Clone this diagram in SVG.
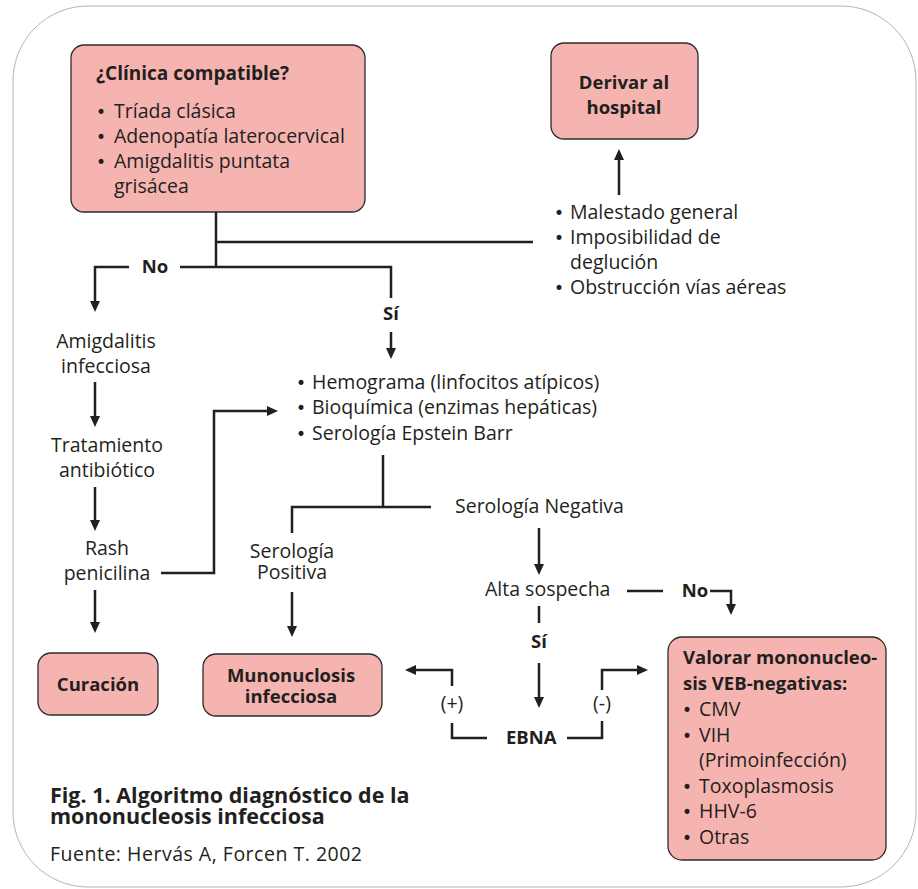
<svg xmlns="http://www.w3.org/2000/svg" width="918" height="889" viewBox="0 0 918 889">
<style>
text{font-family:"Open Sans","DejaVu Sans",sans-serif;fill:#231f20;font-size:19.5px}
.b{font-weight:bold;font-size:18.5px}
.c{text-anchor:middle}
.bu{font-family:"DejaVu Sans",sans-serif;font-size:17px}
.box{fill:#f6b4b1;stroke:#2b2b2b;stroke-width:1.3}
.ln{fill:none;stroke:#231f20;stroke-width:2.5}
.ar{marker-end:url(#ah)}
</style>
<defs>
<marker id="ah" markerUnits="userSpaceOnUse" markerWidth="12" markerHeight="11" refX="3" refY="5" orient="auto">
<path d="M0,0 L11,5 L0,10 z" fill="#231f20"/>
</marker>
</defs>
<rect width="918" height="889" fill="#fff"/>
<path d="M88 6 H841 A75 75 0 0 1 916 81 V812 A75 75 0 0 1 841 887 H88 A75 75 0 0 1 13 812 V81 A75 75 0 0 1 88 6 Z" fill="none" stroke="#b4b4b4" stroke-width="1"/>

<g id="connectors">
<path class="ln ar" d="M619 195 V157"/>
<path class="ln" d="M216 212 V267"/>
<path class="ln" d="M216 242 H533"/>
<path class="ln ar" d="M129 267 H95 V304"/>
<path class="ln" d="M180 267 H391 V298"/>
<path class="ln ar" d="M391 332 V351"/>
<path class="ln ar" d="M95 382 V419"/>
<path class="ln ar" d="M95 487 V523"/>
<path class="ln ar" d="M95 590 V625"/>
<path class="ln ar" d="M161 573 H214 V411 H270"/>
<path class="ln" d="M383 455 V507"/>
<path class="ln" d="M292 533 V507 H431"/>
<path class="ln ar" d="M292 592 V629"/>
<path class="ln ar" d="M539 528 V567"/>
<path class="ln" d="M627 591 H663"/>
<path class="ln ar" d="M710 591 H731 V607"/>
<path class="ln" d="M539 606 V623"/>
<path class="ln ar" d="M539 663 V700"/>
<path class="ln" d="M487 738 H452 V723"/>
<path class="ln ar" d="M452 686 V670 H413"/>
<path class="ln" d="M567 738 H602 V721"/>
<path class="ln ar" d="M602 690 V670 H640"/>
</g>

<g id="clinica">
<rect class="box" x="71" y="45" width="294" height="167" rx="13"/>
<text class="b" x="96" y="80" style="font-size:19px">¿Clínica compatible?</text>
<text y="118"><tspan class="bu" x="96">•</tspan><tspan x="114">Tríada clásica</tspan></text>
<text y="143"><tspan class="bu" x="96">•</tspan><tspan x="114">Adenopatía laterocervical</tspan></text>
<text y="168"><tspan class="bu" x="96">•</tspan><tspan x="114">Amigdalitis puntata</tspan></text>
<text x="114" y="193">grisácea</text>
</g>

<g id="derivar">
<rect class="box" x="551" y="43" width="147" height="96" rx="13"/>
<text class="b c" x="624" y="89">Derivar al</text>
<text class="b c" x="624" y="114">hospital</text>
</g>

<g id="sintomas">
<text y="219"><tspan class="bu" x="554">•</tspan><tspan x="570">Malestado general</tspan></text>
<text y="244"><tspan class="bu" x="554">•</tspan><tspan x="570">Imposibilidad de</tspan></text>
<text x="570" y="269">deglución</text>
<text y="294"><tspan class="bu" x="554">•</tspan><tspan x="570">Obstrucción vías aéreas</tspan></text>
</g>

<g id="labels">
<text class="b c" x="155" y="273">No</text>
<text class="b c" x="391" y="320">Sí</text>
<text class="b c" x="539" y="648">Sí</text>
<text class="b c" x="695" y="597">No</text>
<text class="c" x="452" y="710">(+)</text>
<text class="c" x="602" y="710">(-)</text>
</g>

<g id="amigdalitis">
<text class="c" x="106" y="348">Amigdalitis</text>
<text class="c" x="106" y="373">infecciosa</text>
</g>
<g id="tratamiento">
<text class="c" x="107" y="452">Tratamiento</text>
<text class="c" x="107" y="477">antibiótico</text>
</g>
<g id="rash">
<text class="c" x="107" y="555">Rash</text>
<text class="c" x="107" y="580">penicilina</text>
</g>

<g id="pruebas">
<text y="389"><tspan class="bu" x="296">•</tspan><tspan x="312">Hemograma (linfocitos atípicos)</tspan></text>
<text y="414"><tspan class="bu" x="296">•</tspan><tspan x="312">Bioquímica (enzimas hepáticas)</tspan></text>
<text y="440"><tspan class="bu" x="296">•</tspan><tspan x="312">Serología Epstein Barr</tspan></text>
</g>

<g id="seroneg">
<text x="455" y="513">Serología Negativa</text>
</g>
<g id="seropos">
<text class="c" x="292" y="558">Serología</text>
<text class="c" x="292" y="579">Positiva</text>
</g>
<g id="alta">
<text x="485" y="596">Alta sospecha</text>
</g>
<g id="ebna">
<text class="b" x="506" y="744">EBNA</text>
</g>

<g id="curacion">
<rect class="box" x="38" y="653" width="120" height="62" rx="13"/>
<text class="b c" x="98" y="691">Curación</text>
</g>

<g id="mononucleosis">
<rect class="box" x="203" y="654" width="179" height="62" rx="13"/>
<text class="b c" x="291" y="682">Munonuclosis</text>
<text class="b c" x="291" y="703">infecciosa</text>
</g>

<g id="valorar">
<rect class="box" x="668" y="637" width="218" height="223" rx="14"/>
<text class="b" x="683" y="664">Valorar mononucleo-</text>
<text class="b" x="683" y="690">sis VEB-negativas:</text>
<text y="716"><tspan class="bu" x="682">•</tspan><tspan x="699">CMV</tspan></text>
<text y="742"><tspan class="bu" x="682">•</tspan><tspan x="699">VIH</tspan></text>
<text x="699" y="767">(Primoinfección)</text>
<text y="793"><tspan class="bu" x="682">•</tspan><tspan x="699">Toxoplasmosis</tspan></text>
<text y="818"><tspan class="bu" x="682">•</tspan><tspan x="699">HHV-6</tspan></text>
<text y="844"><tspan class="bu" x="682">•</tspan><tspan x="699">Otras</tspan></text>
</g>

<g id="caption">
<text class="b" x="50" y="803" style="font-size:21.5px">Fig. 1. Algoritmo diagnóstico de la</text>
<text class="b" x="50" y="824" style="font-size:21.5px">mononucleosis infecciosa</text>
<text x="50" y="861" style="font-size:19.5px" textLength="312" lengthAdjust="spacing">Fuente: Hervás A, Forcen T. 2002</text>
</g>
</svg>
